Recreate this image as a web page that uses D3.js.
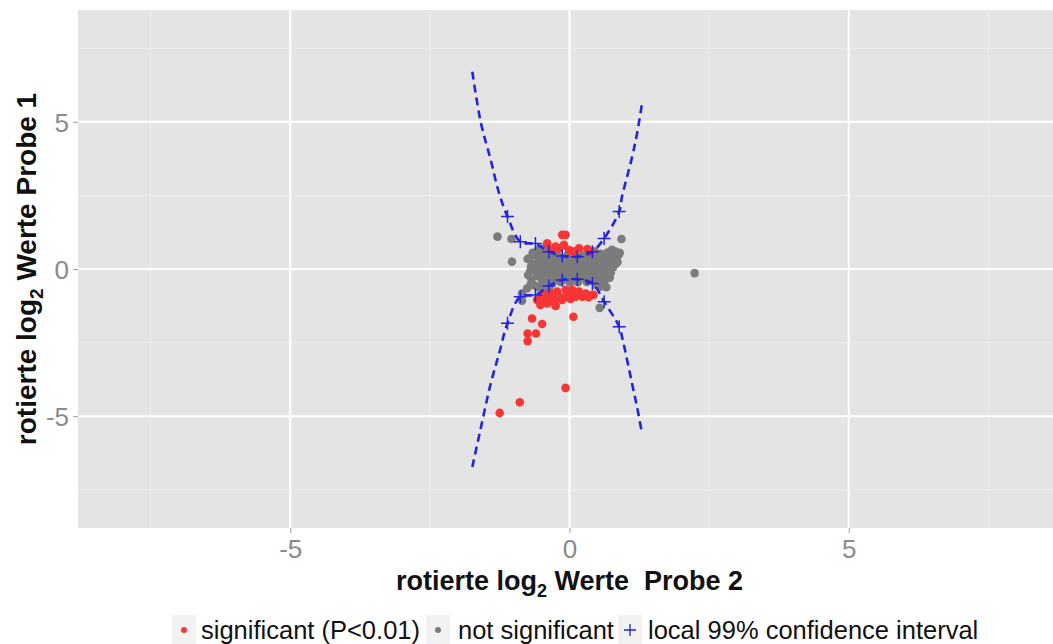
<!DOCTYPE html>
<html><head><meta charset="utf-8">
<script src="https://cdn.jsdelivr.net/npm/d3@7"></script>
<style>
html,body{margin:0;padding:0;background:#fff;}
svg{display:block;font-family:"Liberation Sans",Arial,Helvetica,sans-serif;}
</style></head>
<body><svg id="chart" width="1053" height="644"></svg>
<script>
// ---------- data ----------
const xTicks = [-5, 0, 5];
const yTicks = [-5, 0, 5];
const minorTicks = [-7.5, -2.5, 2.5, 7.5];

const grayX = [
 -0.35,-0.21,-0.04,0.11,0.24,0.41,
 -0.50,-0.37,-0.26,-0.12,0.03,0.15,0.31,0.44,0.58,
 -0.56,-0.42,-0.29,-0.18,-0.06,0.08,0.21,0.33,0.48,0.60,0.71,
 -0.61,-0.47,-0.35,-0.23,-0.10,0.02,0.16,0.29,0.41,0.55,0.67,
 -0.64,-0.51,-0.37,-0.24,-0.12,0.01,0.13,0.27,0.38,0.51,0.63,
 -0.60,-0.46,-0.33,-0.21,-0.08,0.05,0.18,0.32,0.44,0.57,
 -0.58,-0.44,-0.31,-0.18,-0.05,0.09,0.22,0.35,0.47,0.61,
 -0.55,-0.41,-0.28,-0.15,-0.02,0.12,0.25,0.38,0.50,
 -0.50,-0.36,-0.23,-0.10,0.04,0.17,0.30,0.43,
 -0.45,-0.30,-0.16,0.01,0.15,0.31,0.46,
 -0.63,-0.50,-0.36,0.49,0.58,
 -1.29,-1.04,0.93,-1.03,-0.75,-0.72,-0.55,-0.46,-0.70,-0.76,-0.85,
 0.76,0.82,0.88,0.70,0.64,0.82,0.73,0.55,0.54,-0.85,2.24,0.90,0.52,0.47,-0.66,0.66,
 -0.58,-0.45,-0.33,-0.62,-0.52,-0.40,-0.68,-0.57,-0.47,-0.36,
 0.50,0.62,0.74,0.86,0.56,0.68,0.80,0.45,0.60,0.72,0.62,
 -0.69,-0.74,-0.66,-0.70,0.78,0.84,0.66,0.76
];
const grayY = [
 0.46,0.44,0.47,0.45,0.46,0.43,
 0.36,0.34,0.37,0.35,0.33,0.36,0.34,0.37,0.35,
 0.25,0.27,0.24,0.26,0.23,0.26,0.25,0.27,0.24,0.26,0.25,
 0.15,0.14,0.16,0.13,0.16,0.14,0.15,0.17,0.14,0.16,0.13,
 0.05,0.06,0.04,0.06,0.03,0.05,0.07,0.04,0.06,0.05,0.04,
 -0.05,-0.04,-0.06,-0.05,-0.07,-0.04,-0.06,-0.05,-0.04,-0.06,
 -0.15,-0.16,-0.14,-0.15,-0.17,-0.14,-0.16,-0.15,-0.14,-0.16,
 -0.25,-0.26,-0.24,-0.27,-0.25,-0.24,-0.26,-0.25,-0.27,
 -0.35,-0.36,-0.34,-0.36,-0.35,-0.33,-0.36,-0.35,
 -0.45,-0.46,-0.44,-0.46,-0.45,-0.44,-0.46,
 -0.55,-0.56,-0.54,-0.55,-0.57,
 1.10,1.02,1.02,0.25,0.34,0.36,0.65,0.70,-0.54,-0.66,-0.83,
 0.65,0.59,0.48,0.48,0.36,0.36,0.14,-0.60,-1.32,-1.08,-0.14,0.55,0.25,0.08,0.55,-0.62,
 0.56,0.58,0.55,0.47,0.49,0.51,-0.35,-0.62,-0.66,-0.64,
 -0.18,-0.22,-0.12,0.24,0.52,0.56,0.46,0.60,-0.35,-0.30,-0.45,
 0.08,-0.20,0.18,-0.05,0.05,0.20,0.30,0.15
];

const redX = [
 -0.13,-0.07,-0.40,-0.25,-0.19,-0.10,-0.01,0.17,0.32,0.38,-0.34,0.06,
 -0.52,-0.43,-0.34,-0.22,-0.07,0.05,0.17,0.29,0.41,-0.46,-0.31,-0.19,-0.01,-0.25,-0.40,0.11,0.23,-0.13,
 -0.52,-0.25,0.43,0.26,-0.58,-0.37,-0.10,0.02,0.34,-0.28,
 -0.67,-0.49,-0.75,-0.60,-0.75,0.07,-0.07,-0.89,-1.25
];
const redY = [
 1.16,1.16,0.87,0.76,0.70,0.82,0.65,0.70,0.68,0.59,0.65,0.60,
 -0.94,-0.88,-0.83,-0.77,-0.71,-0.71,-0.77,-0.83,-0.88,-1.05,-1.00,-0.94,-0.88,-1.22,-1.17,-0.94,-0.94,-1.05,
 -1.22,-1.26,-0.88,-0.88,-1.05,-1.10,-0.98,-1.02,-0.96,-1.12,
 -1.68,-1.87,-2.19,-2.19,-2.45,-1.62,-4.04,-4.53,-4.89
];

// local 99% confidence interval: dashed curves
const ciCurveX     = [-1.74,-1.59,-1.41,-1.26,-1.11,-0.88,-0.61,-0.37,-0.13,0.14,0.41,0.62,0.89,0.94,1.12,1.21,1.30];
const ciCurveUpper = [ 6.70, 5.00, 3.70, 2.57, 1.78, 0.93, 0.85, 0.60, 0.44,0.42,0.59,1.04,1.95,2.46,3.80,4.61,5.64];
const ciCurveLower = [-6.73,-5.42,-3.89,-2.87,-1.84,-0.94,-0.88,-0.58,-0.37,-0.35,-0.49,-1.11,-1.96,-2.30,-3.89,-4.70,-5.60];
// crosses at the evaluated positions
const ciPointX     = [-1.11,-0.88,-0.61,-0.37,-0.13,0.14,0.41,0.62,0.89];
const ciPointUpper = [ 1.78, 0.93, 0.87, 0.59, 0.44,0.42,0.59,1.04,1.95];
const ciPointLower = [-1.84,-0.94,-0.88,-0.58,-0.37,-0.35,-0.49,-1.11,-1.96];

const legendLabels = ["significant (P<0.01)", "not significant", "local 99% confidence interval"];

// ---------- styles ----------
const RED = "#f73535", GRAY = "#7b7b7b", BLUE = "#2424dc";
const svg = d3.select("#chart");
const panel = {left: 78, right: 1061, top: 10, bottom: 528};

const x = d3.scaleLinear().domain([-8.8, 8.8]).range([panel.left, panel.right]);
const y = d3.scaleLinear().domain([-8.8, 8.8]).range([panel.bottom, panel.top]);

svg.append("defs").append("clipPath").attr("id","clip")
  .append("rect").attr("x",panel.left).attr("y",panel.top)
  .attr("width",panel.right-panel.left).attr("height",panel.bottom-panel.top);

svg.append("rect").attr("x",panel.left).attr("y",panel.top)
  .attr("width",panel.right-panel.left).attr("height",panel.bottom-panel.top)
  .attr("fill","#e4e4e4");

const grid = svg.append("g");
grid.selectAll(".mx").data(minorTicks).join("line")
  .attr("x1",d=>x(d)).attr("x2",d=>x(d)).attr("y1",panel.top).attr("y2",panel.bottom)
  .attr("stroke","#eeeeee").attr("stroke-width",1);
grid.selectAll(".my").data(minorTicks).join("line")
  .attr("y1",d=>y(d)).attr("y2",d=>y(d)).attr("x1",panel.left).attr("x2",panel.right)
  .attr("stroke","#eeeeee").attr("stroke-width",1);
grid.selectAll(".Mx").data(xTicks).join("line")
  .attr("x1",d=>x(d)).attr("x2",d=>x(d)).attr("y1",panel.top).attr("y2",panel.bottom)
  .attr("stroke","#ffffff").attr("stroke-width",2);
grid.selectAll(".My").data(yTicks).join("line")
  .attr("y1",d=>y(d)).attr("y2",d=>y(d)).attr("x1",panel.left).attr("x2",panel.right)
  .attr("stroke","#ffffff").attr("stroke-width",2);

// axes
const fmt = d => String(d);
const xAxis = d3.axisBottom(x).tickValues(xTicks).tickSize(5).tickPadding(5).tickFormat(fmt);
const gx = svg.append("g").attr("transform",`translate(0,${panel.bottom})`).call(xAxis);
gx.select(".domain").remove();
gx.selectAll("line").attr("stroke","#9a9a9a");
gx.selectAll("text").attr("fill","#8a8a8a").attr("font-size",26).attr("font-family","Liberation Sans, Arial, sans-serif").attr("dy","0.78em");

const yAxis = d3.axisLeft(y).tickValues(yTicks).tickSize(5).tickPadding(4).tickFormat(fmt);
const gy = svg.append("g").attr("transform",`translate(${panel.left},0)`).call(yAxis);
gy.select(".domain").remove();
gy.selectAll("line").attr("stroke","#9a9a9a");
gy.selectAll("text").attr("fill","#8a8a8a").attr("font-size",26).attr("font-family","Liberation Sans, Arial, sans-serif").attr("dy","0.36em");

// plot content
const plot = svg.append("g").attr("clip-path","url(#clip)");
const grayPts = grayX.map((v,i)=>({x:v,y:grayY[i]}));
const redPts = redX.map((v,i)=>({x:v,y:redY[i]}));
plot.selectAll(".g").data(grayPts).join("circle")
  .attr("cx",d=>x(d.x)).attr("cy",d=>y(d.y)).attr("r",4.3).attr("fill",GRAY);
plot.selectAll(".r").data(redPts).join("circle")
  .attr("cx",d=>x(d.x)).attr("cy",d=>y(d.y)).attr("r",4.3).attr("fill",RED);

const line = d3.line().x(d=>x(d[0])).y(d=>y(d[1])).curve(d3.curveCatmullRom.alpha(0.5));
[ciCurveUpper, ciCurveLower].forEach(arr=>{
  plot.append("path").datum(ciCurveX.map((v,i)=>[v,arr[i]]))
    .attr("d",line).attr("fill","none").attr("stroke",BLUE)
    .attr("stroke-width",2.6).attr("stroke-dasharray","8,5");
});
const crossPath = (cx,cy,s)=>`M${cx-s},${cy}L${cx+s},${cy}M${cx},${cy-s}L${cx},${cy+s}`;
[ciPointUpper, ciPointLower].forEach(arr=>{
  plot.selectAll(null).data(ciPointX.map((v,i)=>[v,arr[i]])).join("path")
    .attr("d",d=>crossPath(x(d[0]),y(d[1]),6.5))
    .attr("stroke",BLUE).attr("stroke-width",1.5).attr("fill","none");
});

// axis titles
const xt = svg.append("text").attr("x",x(0)).attr("y",590).attr("text-anchor","middle")
  .attr("font-weight","bold").attr("font-size",27).attr("fill","#111").style("white-space","pre");
xt.append("tspan").text("rotierte log");
xt.append("tspan").attr("font-size",18).attr("dy",7).text("2");
xt.append("tspan").attr("dy",-7).text(" Werte  Probe 2");

const yt = svg.append("text").attr("transform",`translate(36,${y(0)}) rotate(-90)`).attr("text-anchor","middle")
  .attr("font-weight","bold").attr("font-size",28).attr("fill","#111").style("white-space","pre");
yt.append("tspan").text("rotierte log");
yt.append("tspan").attr("font-size",19).attr("dy",7).text("2");
yt.append("tspan").attr("dy",-7).text(" Werte Probe 1");

// legend
const lg = svg.append("g");
const keyXs = [172, 426, 618];
const textXs = [201, 458, 648];
legendLabels.forEach((lab,i)=>{
  lg.append("rect").attr("x",keyXs[i]).attr("y",615).attr("width",24).attr("height",29).attr("fill","#f2f2f2");
  const cx = keyXs[i]+12, cy = 630;
  if(i<2) lg.append("circle").attr("cx",cx).attr("cy",cy).attr("r",3).attr("fill",i===0?RED:GRAY);
  else lg.append("path").attr("d",crossPath(cx,cy,6)).attr("stroke",BLUE).attr("stroke-width",1.3);
  lg.append("text").attr("x",textXs[i]).attr("y",cy).attr("dy","0.36em").attr("font-size",25.5)
    .attr("fill","#111").text(lab);
});
</script></body></html>
